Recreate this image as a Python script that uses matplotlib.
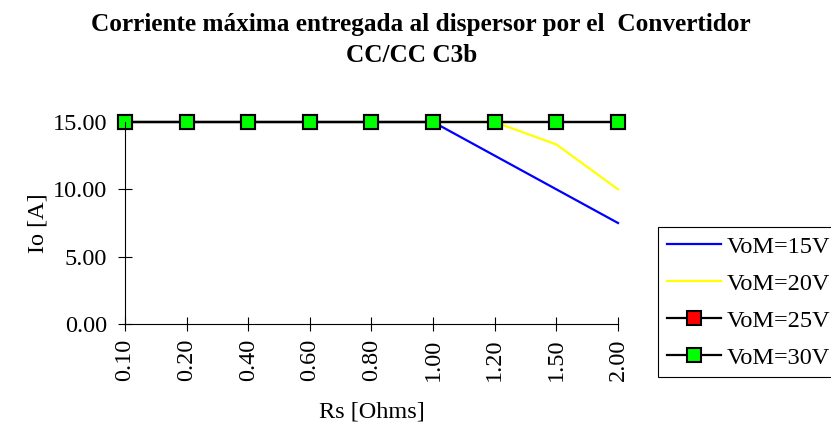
import matplotlib
matplotlib.use("Agg")
import matplotlib.pyplot as plt

plt.rcParams['font.family'] = ['Liberation Serif', 'DejaVu Serif']

categories = ["0.10", "0.20", "0.40", "0.60", "0.80", "1.00", "1.20", "1.50", "2.00"]
vom15 = [15, 15, 15, 15, 15, 15, 12.5, 10.0, 7.5]
vom20 = [15, 15, 15, 15, 15, 15, 15, 13.33, 10.0]
vom25 = [15, 15, 15, 15, 15, 15, 15, 15, 15]
vom30 = [15, 15, 15, 15, 15, 15, 15, 15, 15]
yticks = [0, 5, 10, 15]

FS = 17.5

fig = plt.figure(figsize=(8.31, 4.25), dpi=100)
ax = fig.add_axes([125/831, 1-324/425, (618-125)/831, (324-122)/425])

x = list(range(len(categories)))
ax.plot(x, vom15, color='#0000FF', lw=1.6, label='VoM=15V', clip_on=False)
ax.plot(x, vom20, color='#FFFF00', lw=1.6, label='VoM=20V', clip_on=False)
ax.plot(x, vom25, color='black', lw=1.6, marker='s', ms=10.5, mfc='#FF0000', mec='black',
        mew=1.5, label='VoM=25V', clip_on=False)
ax.plot(x, vom30, color='black', lw=1.6, marker='s', ms=10.5, mfc='#00FF00', mec='black',
        mew=1.5, label='VoM=30V', clip_on=False)

ax.set_xlim(0, len(categories) - 1)
ax.set_ylim(0, 15)
ax.set_xticks(x)
ax.set_xticklabels(categories, rotation=90, fontsize=FS)
ax.set_yticks(yticks)
ax.set_yticklabels([f"{v:.2f}" for v in yticks], fontsize=FS)
ax.tick_params(axis='both', direction='inout', length=10, width=0.8)
ax.tick_params(axis='y', pad=8)
ax.tick_params(axis='x', pad=5.5)
for s in ['top', 'right']:
    ax.spines[s].set_visible(False)
for s in ['left', 'bottom']:
    ax.spines[s].set_linewidth(0.8)

ax.set_xlabel('Rs [Ohms]', fontsize=FS, labelpad=15)
ax.set_ylabel('Io [A]', fontsize=FS, labelpad=3)

fig.text(421/831, 1-25/425, 'Corriente máxima entregada al dispersor por el  Convertidor',
         ha='center', va='center', fontsize=18.2, fontweight='bold')
fig.text(411.5/831, 1-56/425, 'CC/CC C3b', ha='center', va='center', fontsize=18.2,
         fontweight='bold')

leg = fig.legend(loc='upper left', bbox_to_anchor=(658/831, 1-227/425), fontsize=FS,
                 frameon=True, fancybox=False, edgecolor='black', framealpha=1,
                 handlelength=2.26, handletextpad=0.2, labelspacing=0.62,
                 borderpad=0.35, borderaxespad=0)
leg.get_frame().set_linewidth(0.8)

fig.savefig('out.png', dpi=100)
